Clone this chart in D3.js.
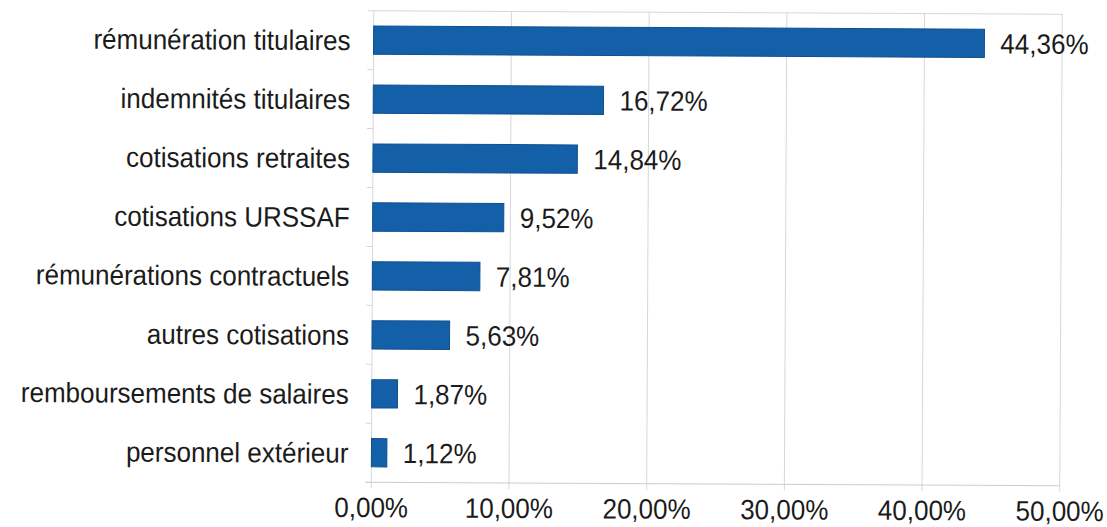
<!DOCTYPE html>
<html>
<head>
<meta charset="utf-8">
<script src="https://cdn.jsdelivr.net/npm/d3@7"></script>
<style>
  html, body { margin: 0; padding: 0; background: #ffffff; }
  svg { display: block; }
  text { font-family: "Liberation Sans", Arial, sans-serif; fill: #1b1b1b; }
</style>
</head>
<body>
<svg id="chart" width="1107" height="527"></svg>
<script>
// Répartition des charges de personnel
const categories = [
  "rémunération titulaires",
  "indemnités titulaires",
  "cotisations retraites",
  "cotisations URSSAF",
  "rémunérations contractuels",
  "autres cotisations",
  "remboursements de salaires",
  "personnel extérieur"
];
const values = [44.36, 16.72, 14.84, 9.52, 7.81, 5.63, 1.87, 1.12];
const valueLabels = ["44,36%", "16,72%", "14,84%", "9,52%", "7,81%", "5,63%", "1,87%", "1,12%"];
const tickValues = [0, 10, 20, 30, 40, 50];
const tickLabels = ["0,00%", "10,00%", "20,00%", "30,00%", "40,00%", "50,00%"];

const plot = { left: 372.5, right: 1061, top: 12.5, bottom: 484 };
const fontSize = 26;
const stretchY = 1.08; // glyphs are a touch taller than wide

const svg = d3.select("#chart");
// the whole drawing sits very slightly tilted
const root = svg.append("g").attr("transform", "rotate(0.3 716 250)");

const x = d3.scaleLinear().domain([0, 50]).range([plot.left, plot.right]);
const y = d3.scaleBand().domain(categories).range([plot.top, plot.bottom]).paddingInner(0.52).paddingOuter(0.26);

const gridColor = "#d9d5dd";

// vertical gridlines
root.append("g")
  .selectAll("line")
  .data(tickValues)
  .join("line")
  .attr("x1", d => x(d)).attr("x2", d => x(d))
  .attr("y1", plot.top).attr("y2", plot.bottom + 6)
  .attr("stroke", gridColor).attr("stroke-width", 1);

// top border of plot area
root.append("line")
  .attr("x1", plot.left).attr("x2", plot.right)
  .attr("y1", plot.top).attr("y2", plot.top)
  .attr("stroke", gridColor).attr("stroke-width", 1);

// category axis with small outward ticks at band edges
const bandEdges = d3.range(categories.length + 1).map(i => plot.top + i * (plot.bottom - plot.top) / categories.length);
root.append("g")
  .selectAll("line")
  .data(bandEdges)
  .join("line")
  .attr("x1", plot.left - 6).attr("x2", plot.left)
  .attr("y1", d => d).attr("y2", d => d)
  .attr("stroke", gridColor).attr("stroke-width", 1);

// bottom axis line
root.append("line")
  .attr("x1", plot.left - 6).attr("x2", plot.right)
  .attr("y1", plot.bottom).attr("y2", plot.bottom)
  .attr("stroke", "#cfcbd3").attr("stroke-width", 1);

// bars
root.append("g")
  .selectAll("rect")
  .data(values)
  .join("rect")
  .attr("x", x(0))
  .attr("y", (d, i) => y(categories[i]))
  .attr("width", d => x(d) - x(0))
  .attr("height", y.bandwidth())
  .attr("fill", "#1460a8")
  .attr("stroke", "#0f4f8f")
  .attr("stroke-width", 1);

const place = (px, py) => `translate(${px},${py}) scale(1,${stretchY})`;

// value labels
root.append("g")
  .selectAll("text")
  .data(values)
  .join("text")
  .attr("transform", (d, i) => place(x(d) + 16, y(categories[i]) + y.bandwidth() / 2))
  .attr("dy", "0.36em")
  .attr("font-size", fontSize)
  .text((d, i) => valueLabels[i]);

// category labels
root.append("g")
  .selectAll("text")
  .data(categories)
  .join("text")
  .attr("transform", d => place(plot.left - 23, y(d) + y.bandwidth() / 2))
  .attr("dy", "0.36em")
  .attr("text-anchor", "end")
  .attr("font-size", fontSize)
  .text(d => d);

// value axis tick labels
root.append("g")
  .selectAll("text")
  .data(tickValues)
  .join("text")
  .attr("transform", d => place(x(d), 519))
  .attr("text-anchor", "middle")
  .attr("font-size", fontSize)
  .text((d, i) => tickLabels[i]);
</script>
</body>
</html>
